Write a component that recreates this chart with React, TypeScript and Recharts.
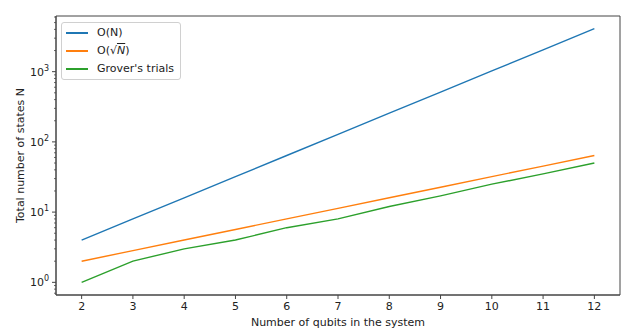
import React from "react";
import { LineChart, Line, XAxis, YAxis, Legend, ReferenceArea } from "recharts";

const qubits = [2, 3, 4, 5, 6, 7, 8, 9, 10, 11, 12];
const orderN = [4, 8, 16, 32, 64, 128, 256, 512, 1024, 2048, 4096];
const orderSqrtN = [2, 2.83, 4, 5.66, 8, 11.31, 16, 22.63, 32, 45.25, 64];
const groverTrials = [1, 2, 3, 4, 6, 8, 12, 17, 25, 35, 50];

const xTicks = [2, 3, 4, 5, 6, 7, 8, 9, 10, 11, 12];
const yMajorTicks = [1, 10, 100, 1000];
const yMinorTicks = [
  0.7, 0.8, 0.9, 2, 3, 4, 5, 6, 7, 8, 9, 20, 30, 40, 50, 60, 70, 80, 90,
  200, 300, 400, 500, 600, 700, 800, 900, 2000, 3000, 4000, 5000, 6000,
];

const X_DOMAIN: [number, number] = [1.5, 12.5];
const Y_DOMAIN: [number, number] = [0.66, 6206];

const data = qubits.map((q, i) => ({
  q,
  n: orderN[i],
  s: orderSqrtN[i],
  g: groverTrials[i],
}));

const FONT = "'DejaVu Sans', sans-serif";
const AXIS = "#444";

const XTick = (props: any) => {
  const { x, y, payload } = props;
  return (
    <g>
      <line x1={x} x2={x} y1={y} y2={y + 4} stroke={AXIS} strokeWidth={1} />
      <text x={x} y={y + 15} textAnchor="middle" fontSize={11} fontFamily={FONT} fill="#222">
        {payload.value}
      </text>
    </g>
  );
};

const YTick = (props: any) => {
  const { x, y, payload } = props;
  const v = payload.value;
  const exp = Math.round(Math.log10(v));
  const isMajor = Math.abs(Math.pow(10, exp) - v) < 1e-9;
  if (!isMajor) {
    return <line x1={x} x2={x - 2} y1={y} y2={y} stroke={AXIS} strokeWidth={0.8} />;
  }
  return (
    <g>
      <line x1={x} x2={x - 4} y1={y} y2={y} stroke={AXIS} strokeWidth={1} />
      <text x={x - 7} y={y + 4} textAnchor="end" fontSize={11} fontFamily={FONT} fill="#222">
        10
        <tspan fontSize={8} dy={-5}>{exp}</tspan>
      </text>
    </g>
  );
};

const legendRows = [
  { key: "n", color: "#1f77b4" },
  { key: "s", color: "#ff7f0e" },
  { key: "g", color: "#2ca02c" },
];

const legendLabel = (key: string) => {
  if (key === "n") return <span>O(N)</span>;
  if (key === "s")
    return (
      <span>
        O(√<span style={{ textDecoration: "overline", fontStyle: "italic" }}>N</span>)
      </span>
    );
  return <span>Grover's trials</span>;
};

const LegendBox = () => (
  <div
    style={{
      border: "1px solid #d0d0d0",
      borderRadius: 3,
      background: "rgba(255,255,255,0.8)",
      padding: "1px 6px 1px 4px",
      fontFamily: FONT,
      fontSize: 11,
      color: "#222",
      whiteSpace: "nowrap",
      display: "inline-block",
      lineHeight: "18px",
      textAlign: "left",
    }}
  >
    {legendRows.map((r) => (
      <div key={r.key} style={{ display: "flex", alignItems: "center", height: 18 }}>
        <div
          style={{
            width: 22,
            minWidth: 22,
            height: 1.5,
            background: r.color,
            marginRight: 9,
            flexShrink: 0,
          }}
        />
        {legendLabel(r.key)}
      </div>
    ))}
  </div>
);

export default function App() {
  return (
    <div style={{ position: "absolute", left: 0, top: 0, width: 640, height: 333, background: "#fff" }}>
      <LineChart width={640} height={333} data={data} margin={{ top: 16, right: 20, bottom: 0, left: 0 }}>
        <XAxis
          dataKey="q"
          type="number"
          domain={X_DOMAIN}
          ticks={xTicks}
          allowDataOverflow
          interval={0}
          height={38}
          tickLine={false}
          tickSize={0}
          tickMargin={0}
          axisLine={{ stroke: AXIS }}
          tick={<XTick />}
          label={{
            value: "Number of qubits in the system",
            position: "insideBottom",
            offset: 7,
            style: { fontSize: 11, fontFamily: FONT, fill: "#222" },
          }}
        />
        <YAxis
          type="number"
          scale="log"
          domain={Y_DOMAIN}
          ticks={[...yMajorTicks, ...yMinorTicks].sort((a, b) => a - b)}
          allowDataOverflow
          interval={0}
          width={56}
          tickLine={false}
          tickSize={0}
          tickMargin={0}
          axisLine={{ stroke: AXIS }}
          tick={<YTick />}
          label={{
            value: "Total number of states N",
            angle: -90,
            position: "insideLeft",
            offset: 20,
            style: { fontSize: 11, fontFamily: FONT, fill: "#222", textAnchor: "middle" },
          }}
        />
        <ReferenceArea
          x1={X_DOMAIN[0]}
          x2={X_DOMAIN[1]}
          y1={Y_DOMAIN[0]}
          y2={Y_DOMAIN[1]}
          fill="none"
          stroke={AXIS}
          strokeWidth={1}
        />
        <Line dataKey="n" stroke="#1f77b4" strokeWidth={1.4} dot={false} isAnimationActive={false} />
        <Line dataKey="s" stroke="#ff7f0e" strokeWidth={1.4} dot={false} isAnimationActive={false} />
        <Line dataKey="g" stroke="#2ca02c" strokeWidth={1.4} dot={false} isAnimationActive={false} />
        <Legend
          layout="vertical"
          align="center"
          verticalAlign="middle"
          content={<LegendBox />}
          wrapperStyle={{ left: 61, top: 22, width: "auto" }}
        />
      </LineChart>
    </div>
  );
}
